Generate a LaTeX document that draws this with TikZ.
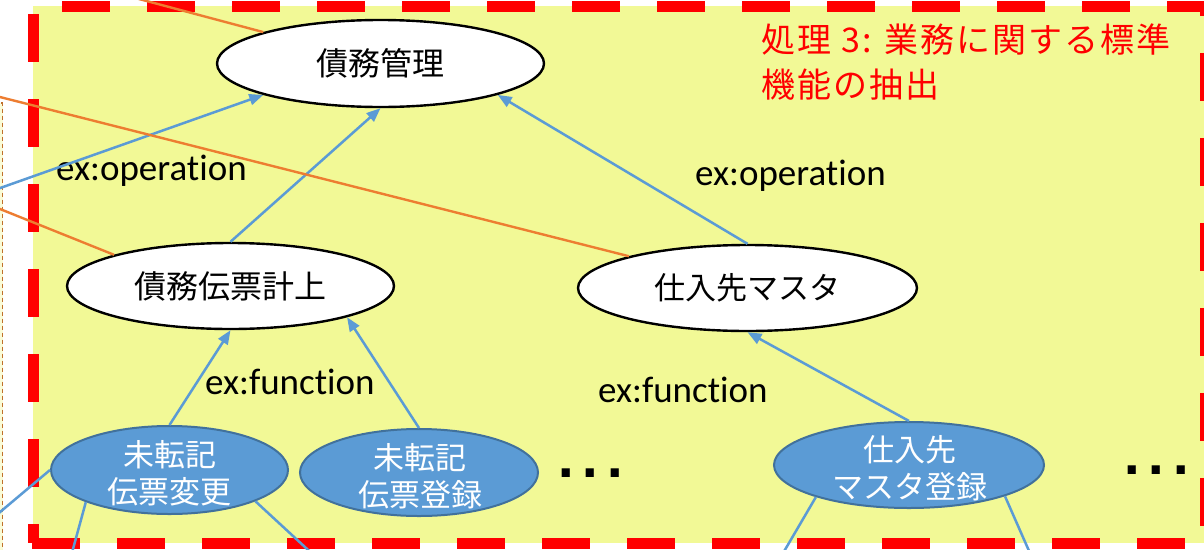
\documentclass[tikz,border=0pt]{standalone}
\usepackage{fontspec}
\setmainfont{Carlito}[Ligatures=NoCommon]
\newfontfamily\jp{Noto Sans CJK JP}
\newfontfamily\jptitle[LetterSpace=6]{Noto Sans CJK JP}
\newfontfamily\dotfont{DejaVu Sans}
\usetikzlibrary{shapes.geometric,arrows.meta}
\definecolor{bgyellow}{RGB}{242,249,150}
\definecolor{flowblue}{HTML}{5B9BD5}
\definecolor{edgeblue}{HTML}{41719C}
\definecolor{linkorange}{HTML}{ED7D31}
\definecolor{boxbrown}{HTML}{C0702A}
\definecolor{paleyellow}{RGB}{250,252,215}
\begin{document}
\begin{tikzpicture}[x=1pt,y=-1pt,
  wnode/.style={ellipse,draw=black,line width=2.4pt,fill=white,inner sep=0pt,font=\jp\fontsize{32}{38}\selectfont},
  bnode/.style={ellipse,draw=edgeblue,line width=2pt,fill=flowblue,inner sep=0pt},
  btext/.style={text=white,align=center,inner sep=0pt,font=\jp\fontsize{31}{37}\selectfont},
  rel/.style={draw=flowblue,line width=2.5pt},
  relarrow/.style={rel,-{Triangle[length=14pt,width=11pt]}},
  link/.style={draw=linkorange,line width=2.4pt},
  lbl/.style={anchor=base west,inner sep=0pt,font=\fontsize{37}{44}\selectfont},
  titletext/.style={anchor=base west,inner sep=0pt,text=red,font=\jptitle\fontsize{34}{45}\selectfont},
  dotstext/.style={anchor=base west,inner sep=0pt,font=\dotfont\bfseries\fontsize{46}{50}\selectfont},
  border/.style={draw=red,line width=11pt,dash pattern=on 48pt off 37pt},
]
\useasboundingbox (0,0) rectangle (1204,549);
\fill[white] (0,0) rectangle (1204,549);
\clip (0,0) rectangle (1204,549);
% background panel
\fill[bgyellow] (33,6) rectangle (1205,543);
% neighbouring box at the far left
\fill[paleyellow] (-20,103) rectangle (2.5,560);
\draw[draw=boxbrown,line width=1.8pt,dash pattern=on 4pt off 3pt] (-20,103) -- (2.5,103) -- (2.5,560);
% red dashed frame
\draw[border,dash phase=50.5pt] (27.5,6) -- (1210,6);
\draw[border,dash phase=77pt] (33,6) -- (33,543);
\draw[border,dash phase=80.5pt] (27.5,543) -- (1210,543);
\draw[border,dash phase=38pt] (1205,6) -- (1205,549);
% title
\node[titletext] (t1) at (761.5,52.5) {処理 3: 業務に関する標準};
\node[titletext] (t2) at (761.5,97.5) {機能の抽出};
% white nodes
\node[wnode,minimum width=327pt,minimum height=87pt] (n1) at (380.5,63.5) {債務管理};
\node[wnode,minimum width=327pt,minimum height=86pt] (n2) at (230.5,286) {債務伝票計上};
\node[wnode,minimum width=339pt,minimum height=86pt,font=\jp\fontsize{31}{37}\selectfont] (n3) at (747.5,288) {仕入先マスタ};
% blue nodes
\node[bnode,minimum width=237pt,minimum height=88pt] (b1) at (169.5,470) {};
\node[bnode,minimum width=238pt,minimum height=87pt] (b2) at (419,472.5) {};
\node[bnode,minimum width=270pt,minimum height=86pt] (b3) at (909,465) {};
\node[btext] (b1t) at (169.5,473.5) {未転記\\伝票変更};
\node[btext] (b2t) at (420,476.5) {未転記\\伝票登録};
\node[btext] (b3t) at (910,468.5) {仕入先\\マスタ登録};
% labels
\node[lbl] (op1) at (56,180) {ex:operation};
\node[lbl] (op2) at (695,185) {ex:operation};
\node[lbl] (fn1) at (205,394) {ex:function};
\node[lbl] (fn2) at (598,402) {ex:function};
\node[dotstext] (d1) at (557,477) {.\hspace{7pt}.\hspace{7pt}.};
\node[dotstext] (d2) at (1123,474) {.\hspace{7pt}.\hspace{7pt}.};
% blue arrows
\draw[relarrow] (n2.north) -- (n1.south);
\draw[relarrow] (n3.north) -- (n1.-15);
\coordinate (l1) at (-10,191.6);
\draw[relarrow] (l1) -- (n1.195);
\draw[relarrow] (b1.north) -- (n2.south);
\draw[relarrow] (b2.north) -- (n2.-15);
\draw[relarrow] (b3.north) -- (n3.south);
% orange links
\coordinate (o1) at (131.5,-3);
\draw[link] (o1) -- (n1.165);
\coordinate (o2) at (-10,94.5);
\draw[link] (o2) -- (n3.165);
\coordinate (o3) at (-10,205);
\draw[link] (o3) -- (n2.165);
% blue lines leaving the picture
\coordinate (c1) at (-10,520.5);
\draw[rel] (b1.west) -- (c1);
\coordinate (c2) at (70,560);
\draw[rel] (b1.-159) -- (c2);
\coordinate (c3) at (319,560);
\draw[rel] (b1.-20.5) -- (c3);
\coordinate (c4) at (779,560);
\draw[rel] (b3.-161.5) -- (c4);
\coordinate (c5) at (1033,560);
\draw[rel] (b3.-18.5) -- (c5);
\end{tikzpicture}
\end{document}
